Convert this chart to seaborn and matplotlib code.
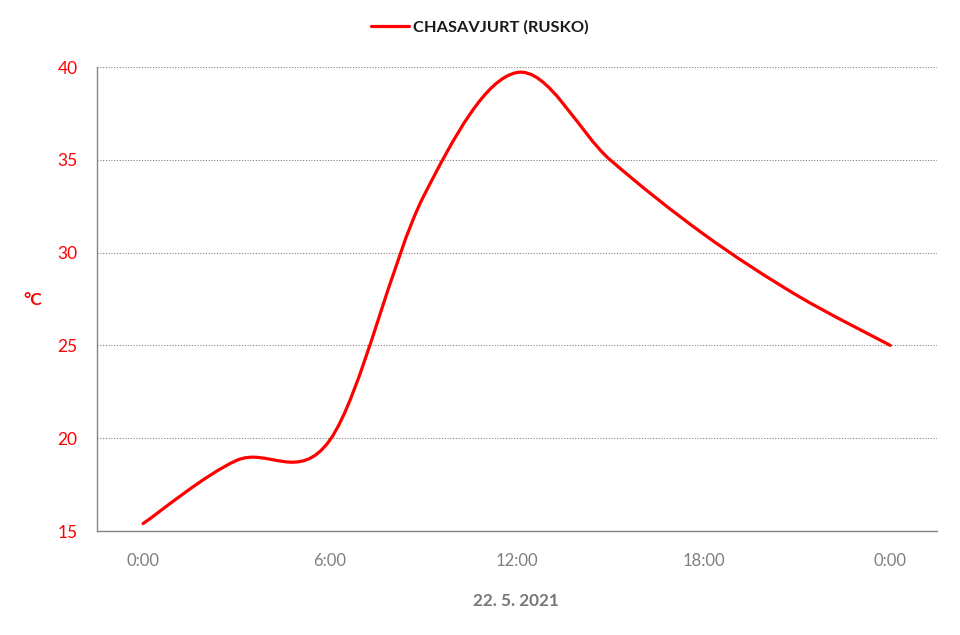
import numpy as np
import pandas as pd
import matplotlib
matplotlib.use('Agg')
import matplotlib.pyplot as plt
from matplotlib.path import Path
from matplotlib.patches import PathPatch
from matplotlib.lines import Line2D
import seaborn as sns

# Temperature readings, every 3 hours (22. 5. 2021)
hours = [0, 3, 6, 9, 12, 15, 18, 21, 24]
temps = [15.4, 18.8, 19.9, 33.0, 39.7, 35.0, 31.0, 27.7, 25.0]
tick_hours = [0, 6, 12, 18, 24]
tick_labels = ['0:00', '6:00', '12:00', '18:00', '0:00']
station = 'CHASAVJURT (RUSKO)'

df = pd.DataFrame({'hour': hours, 'temp': temps})

sns.set_theme(style='white')
plt.rcParams['font.family'] = ['Lato', 'DejaVu Sans']

fig = plt.figure(figsize=(9.6, 6.35), dpi=100)
ax = fig.add_axes([97 / 960, 104 / 635, 840 / 960, 464 / 635])

# Excel-like smoothed line: cubic Bezier segments through the data points
pts = df[['hour', 'temp']].to_numpy(dtype=float)
ext = np.vstack([pts[:1], pts, pts[-1:]])
verts = [tuple(pts[0])]
codes = [Path.MOVETO]
for i in range(len(pts) - 1):
    p0, p1, p2, p3 = ext[i], ext[i + 1], ext[i + 2], ext[i + 3]
    c1 = p1 + (p2 - p0) / 6
    c2 = p2 - (p3 - p1) / 6
    verts += [tuple(c1), tuple(c2), tuple(p2)]
    codes += [Path.CURVE4] * 3
ax.add_patch(PathPatch(Path(verts, codes), facecolor='none', edgecolor='#ff0000',
                       lw=2.3, capstyle='round', joinstyle='round', zorder=3))

ax.set_xlim(-1.48, 25.5)
ax.set_ylim(15, 40)
ax.set_yticks([15, 20, 25, 30, 35, 40])
ax.set_xticks(tick_hours)
ax.set_xticklabels(tick_labels)

ax.yaxis.grid(True, color='#808080', linestyle=(0, (1, 1.5)), linewidth=0.8)
ax.xaxis.grid(False)
for s in ['top', 'right']:
    ax.spines[s].set_visible(False)
for s in ['left', 'bottom']:
    ax.spines[s].set_color('#868686')
    ax.spines[s].set_linewidth(1.0)

ax.tick_params(axis='y', length=0, pad=14, labelsize=12.5, labelcolor='#ff0000')
ax.tick_params(axis='x', length=0, pad=16, labelsize=12, labelcolor='#7f7f7f')

ax.set_ylabel('°C', rotation=0, color='#ff0000', fontsize=12.5, fontweight='bold')
ax.yaxis.set_label_coords(-0.076, 0.48)
ax.set_xlabel('22. 5. 2021', color='#777777', fontsize=12.3, fontweight='bold')
ax.xaxis.set_label_coords(0.499, -0.133)

handle = Line2D([], [], color='#ff0000', lw=2.3)
leg = fig.legend([handle], [station], loc='center', bbox_to_anchor=(0.5, 1 - 27 / 635),
                 frameon=False, handlelength=2.3, handletextpad=0.3,
                 prop={'size': 11.8, 'weight': 'bold'})
for t in leg.get_texts():
    t.set_color('#1a1a1a')

fig.savefig('out.png', dpi=100)
